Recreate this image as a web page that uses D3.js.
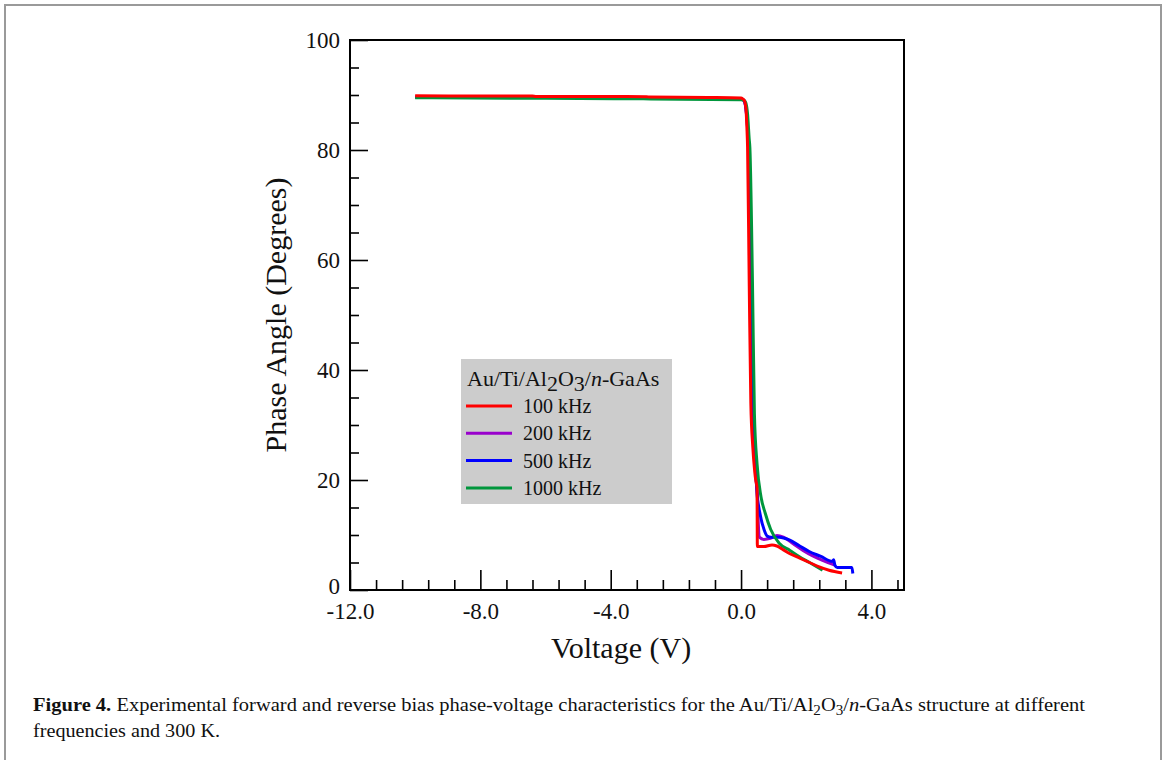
<!DOCTYPE html>
<html>
<head>
<meta charset="utf-8">
<script src="https://cdn.jsdelivr.net/npm/d3@7"></script>
<style>
  body { margin: 0; background: #fff; }
  svg { display: block; }
  text { font-family: "Liberation Serif", "Times New Roman", serif; fill: #111; }
</style>
</head>
<body>
<svg id="chart" width="1166" height="760"></svg>
<script>
// tick values
var xTicks = [-12, -8, -4, 0, 4];
var yTicks = [0, 20, 40, 60, 80, 100];

var seriesNames = ["100 kHz", "200 kHz", "500 kHz", "1000 kHz"];
var seriesColors = ["#ff0000", "#9900cc", "#0000ff", "#00963c"];

// 100 kHz
var v100 = [-10, -8, -6.4, -6.3, -4, -2.9, -2.8, -1, 0, 0.05, 0.1, 0.15, 0.18, 0.2, 0.25, 0.3, 0.36, 0.42, 0.45, 0.49, 0.5, 0.7, 0.95, 1.1, 1.3, 1.5, 1.8, 2.1, 2.4, 2.7, 3.1];
var p100 = [89.85, 89.82, 89.8, 89.74, 89.72, 89.7, 89.62, 89.55, 89.45, 89.3, 89.0, 87.5, 84, 80.5, 56, 34, 26, 21.5, 20, 18.5, 7.9, 7.9, 8.2, 8.0, 7.3, 6.6, 5.8, 5.0, 4.2, 3.6, 3.1];

// 200 kHz
var v200 = [-10, -6, -3, 0, 0.05, 0.1, 0.15, 0.2, 0.23, 0.3, 0.37, 0.43, 0.5, 0.53, 0.56, 0.7, 0.9, 1.1, 1.3, 1.6, 1.9, 2.2, 2.5, 2.9];
var p200 = [89.7, 89.65, 89.55, 89.35, 89.2, 88.9, 87.5, 84, 80.6, 56.4, 32, 23, 17, 12, 9.6, 9.2, 9.4, 9.9, 9.6, 8.4, 7.2, 6.2, 5.4, 4.5];

// 500 kHz
var v500 = [-10, -6, -3, 0, 0.05, 0.1, 0.15, 0.2, 0.23, 0.3, 0.37, 0.435, 0.5, 0.58, 0.71, 0.8, 0.92, 1.17, 1.48, 1.8, 2.09, 2.45, 2.8, 2.84, 2.88, 2.95, 3.4, 3.43];
var p500 = [89.6, 89.55, 89.45, 89.3, 89.15, 88.9, 87.5, 84, 80.6, 56.4, 32, 23, 17, 13.9, 10.9, 9.8, 9.6, 9.6, 9.1, 8.0, 7.0, 6.1, 5.2, 5.5, 4.5, 4.1, 4.1, 3.0];

// 1000 kHz
var v1000 = [-10, -6, -3, 0, 0.1, 0.15, 0.2, 0.25, 0.27, 0.35, 0.41, 0.49, 0.61, 0.74, 0.91, 1.17, 1.5, 1.78, 2.1, 2.5];
var p1000 = [89.5, 89.4, 89.3, 89.15, 89.0, 88.5, 86.5, 82, 80.5, 56, 32, 23, 17, 14, 11, 8.5, 7.2, 6.1, 5.0, 3.6];

var svg = d3.select("#chart");

// figure border
svg.append("rect")
  .attr("x", 5).attr("y", 5)
  .attr("width", 1156).attr("height", 780)
  .attr("fill", "none")
  .attr("stroke", "#9a9a9a")
  .attr("stroke-width", 2);

var x = d3.scaleLinear().domain([-12, 5]).range([350, 904]);
var y = d3.scaleLinear().domain([0, 100]).range([590, 40]);

// minor ticks
var xMinor = d3.range(-12, 5.01, 0.8).filter(function(d) {
  return xTicks.indexOf(Math.round(d * 10) / 10) < 0;
});
var yMinor = d3.range(0, 101, 5).filter(function(d) { return d % 20 != 0; });

svg.append("g")
  .attr("transform", "translate(0,590)")
  .call(d3.axisBottom(x).tickValues(xMinor).tickSize(-10).tickFormat(""))
  .call(function(g) { g.select(".domain").remove(); });

svg.append("g")
  .attr("class", "x_axis")
  .attr("transform", "translate(0,590)")
  .call(d3.axisBottom(x).tickValues(xTicks).tickSize(-20).tickPadding(13)
    .tickFormat(function(d) { return d.toFixed(1); }))
  .call(function(g) { g.select(".domain").remove(); });

svg.append("g")
  .attr("transform", "translate(350,0)")
  .call(d3.axisLeft(y).tickValues(yMinor).tickSize(-9).tickFormat(""))
  .call(function(g) { g.select(".domain").remove(); });

svg.append("g")
  .attr("class", "y_axis")
  .attr("transform", "translate(350,0)")
  .call(d3.axisLeft(y).tickValues(yTicks).tickSize(-18).tickPadding(10))
  .call(function(g) { g.select(".domain").remove(); });

svg.selectAll(".tick line").attr("stroke", "#000").attr("stroke-width", 1.6);
svg.selectAll(".tick text")
  .attr("font-family", "Liberation Serif")
  .attr("font-size", 23)
  .attr("fill", "#111");
// the "0" label sits just above the x labels
svg.select(".y_axis").selectAll(".tick text")
  .filter(function(d) { return d === 0; })
  .attr("dy", "0.15em");

// plot frame
svg.append("rect")
  .attr("x", x(-12)).attr("y", y(100))
  .attr("width", x(5) - x(-12)).attr("height", y(0) - y(100))
  .attr("fill", "none")
  .attr("stroke", "#000")
  .attr("stroke-width", 2);

// axis titles
svg.append("text")
  .attr("x", 621).attr("y", 658)
  .attr("text-anchor", "middle")
  .attr("font-size", 30)
  .text("Voltage (V)");

svg.append("text")
  .attr("transform", "translate(286,315) rotate(-90)")
  .attr("text-anchor", "middle")
  .attr("font-size", 30)
  .text("Phase Angle (Degrees)");

// curves
var series = [
  { v: v100, p: p100 },
  { v: v200, p: p200 },
  { v: v500, p: p500 },
  { v: v1000, p: p1000 }
];

var line = d3.line()
  .x(function(d) { return x(d[0]); })
  .y(function(d) { return y(d[1]); })
  .curve(d3.curveMonotoneX);

// draw order: purple, blue, green, red on top
[1, 2, 3, 0].forEach(function(i) {
  var pts = series[i].v.map(function(v, j) { return [v, series[i].p[j]]; });
  svg.append("path")
    .datum(pts)
    .attr("d", line)
    .attr("fill", "none")
    .attr("stroke", seriesColors[i])
    .attr("stroke-width", 3)
    .attr("stroke-linejoin", "round");
});

// legend
var lg = svg.append("g");
lg.append("rect")
  .attr("x", 461).attr("y", 359)
  .attr("width", 211).attr("height", 145)
  .attr("fill", "#cccccc");

var title = lg.append("text")
  .attr("x", 467).attr("y", 386)
  .attr("font-size", 22);
title.append("tspan").text("Au/Ti/Al");
title.append("tspan").attr("dy", 5).text("2");
title.append("tspan").attr("dy", -5).text("O");
title.append("tspan").attr("dy", 5).text("3");
title.append("tspan").attr("dy", -5).text("/");
title.append("tspan").attr("font-style", "italic").text("n");
title.append("tspan").text("-GaAs");

seriesNames.forEach(function(name, i) {
  var ly = 406 + i * 27.3;
  lg.append("line")
    .attr("x1", 466).attr("x2", 512)
    .attr("y1", ly).attr("y2", ly)
    .attr("stroke", seriesColors[i])
    .attr("stroke-width", 3);
  lg.append("text")
    .attr("x", 523).attr("y", ly + 7)
    .attr("font-size", 20)
    .text(name);
});

// caption
var cap1 = svg.append("text")
  .attr("x", 33).attr("y", 711)
  .attr("font-size", 19)
  .attr("textLength", 1052)
  .attr("lengthAdjust", "spacingAndGlyphs");
cap1.append("tspan").attr("font-weight", "bold").text("Figure 4.");
cap1.append("tspan").text(" Experimental forward and reverse bias phase-voltage characteristics for the Au/Ti/Al");
cap1.append("tspan").attr("dy", 4).attr("font-size", 14).text("2");
cap1.append("tspan").attr("dy", -4).text("O");
cap1.append("tspan").attr("dy", 4).attr("font-size", 14).text("3");
cap1.append("tspan").attr("dy", -4).text("/");
cap1.append("tspan").attr("font-style", "italic").text("n");
cap1.append("tspan").text("-GaAs structure at different");

svg.append("text")
  .attr("x", 33).attr("y", 737)
  .attr("font-size", 19)
  .attr("textLength", 187)
  .attr("lengthAdjust", "spacingAndGlyphs")
  .text("frequencies and 300 K.");
</script>
</body>
</html>
